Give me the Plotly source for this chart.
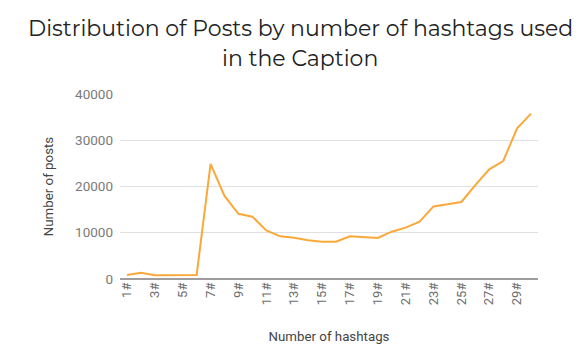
import plotly.graph_objects as go

# Posts per number of hashtags used in the caption
hashtags = [f"{n}#" for n in range(1, 31)]
posts = [860, 1370, 790, 860, 860, 860, 24900, 17950, 14100, 13480,
         10520, 9220, 8940, 8360, 8070, 8070, 9220, 9080, 8860, 10230,
         11100, 12400, 15700, 16140, 16650, 20300, 23700, 25500, 32580, 35750]
y_ticks = [0, 10000, 20000, 30000, 40000]
title_lines = ["Distribution of Posts by number of hashtags used", "in the Caption"]

fig = go.Figure(
    go.Scatter(
        x=hashtags,
        y=posts,
        mode="lines",
        line=dict(color="#FBA83A", width=2),
        hoverinfo="x+y",
    )
)

# Plot-area geometry in pixels, used to place the two title lines
plot_left, plot_right = 120, 538
plot_top, plot_bottom = 94, 279
title_center_x = 300
for line_text, y_px in zip(title_lines, [28, 59]):
    fig.add_annotation(
        text=line_text,
        xref="paper", yref="paper",
        x=(title_center_x - plot_left) / (plot_right - plot_left),
        y=(plot_bottom - y_px) / (plot_bottom - plot_top),
        xanchor="center", yanchor="middle",
        showarrow=False,
        font=dict(family="Montserrat, 'Open Sans', sans-serif", size=22, color="#222222"),
    )

fig.update_layout(
    width=586,
    height=344,
    margin=dict(l=plot_left, r=586 - plot_right, t=plot_top, b=344 - plot_bottom),
    paper_bgcolor="white",
    plot_bgcolor="white",
    showlegend=False,
    font=dict(family="Roboto, sans-serif", color="#5f5f5f", size=12),
    xaxis=dict(
        type="category",
        range=[-0.5, len(hashtags) - 0.5],
        tickvals=hashtags[::2],
        ticktext=hashtags[::2],
        tickangle=-90,
        showgrid=False,
        showline=False,
        ticks="",
        tickfont=dict(color="#6e6e6e", size=13),
        title=dict(text="Number of hashtags", standoff=31,
                   font=dict(size=13.3, color="#444444")),
        automargin=False,
    ),
    yaxis=dict(
        range=[0, 40000],
        tickvals=y_ticks,
        ticktext=[str(v) for v in y_ticks],
        ticklabelstandoff=6,
        showgrid=True,
        gridcolor="#e0e0e0",
        gridwidth=1,
        zeroline=True,
        zerolinecolor="#9e9e9e",
        zerolinewidth=2,
        ticks="",
        tickfont=dict(color="#7a7a7a", size=13.5),
        title=dict(text="Number of posts", standoff=18,
                   font=dict(size=13.3, color="#444444")),
        automargin=False,
    ),
)

fig.write_html("out.html")
